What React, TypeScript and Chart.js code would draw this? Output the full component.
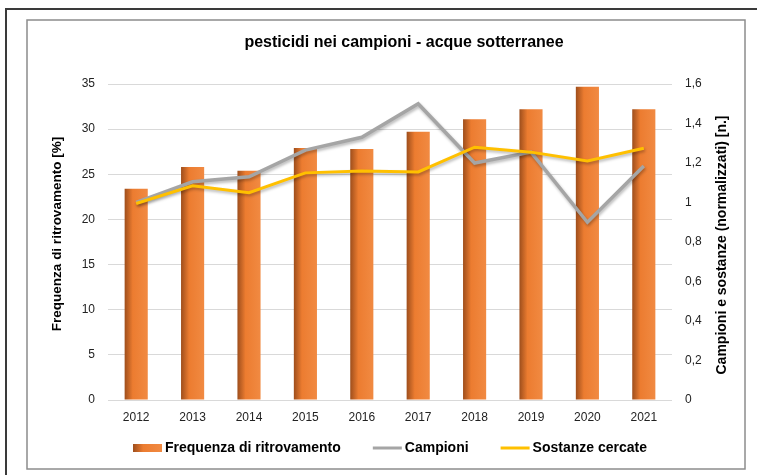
import React, { useEffect, useRef } from "react";
import { Chart, registerables } from "chart.js";

Chart.register(...registerables);

const years = ["2012", "2013", "2014", "2015", "2016", "2017", "2018", "2019", "2020", "2021"];
const frequenza = [23.4, 25.8, 25.4, 27.9, 27.8, 29.7, 31.1, 32.2, 34.7, 32.2];
const campioni = [1.0, 1.105, 1.13, 1.265, 1.33, 1.5, 1.2, 1.255, 0.9, 1.185];
const sostanze = [0.995, 1.085, 1.05, 1.15, 1.16, 1.155, 1.28, 1.255, 1.21, 1.275];

const titleText = "pesticidi nei campioni - acque sotterranee";
const leftTitle = "Frequenza di ritrovamento [%]";
const rightTitle = "Campioni e sostanze (normalizzati) [n.]";
const seriesNames = ["Frequenza di ritrovamento", "Campioni", "Sostanze cercate"];
const seriesColors = ["#ED7D31", "#A5A5A5", "#FFC000"];

const FONT = "'Liberation Sans', Arial, sans-serif";
const BAR_PCT = 0.41;

function barGradient(ctx: CanvasRenderingContext2D, x0: number, x1: number) {
  const g = ctx.createLinearGradient(x0, 0, x1, 0);
  g.addColorStop(0, "#9E4E1C");
  g.addColorStop(0.35, "#EC7C30");
  g.addColorStop(1, "#F18A42");
  return g;
}

const framePlugin = {
  id: "frame",
  beforeDraw(chart: any) {
    const ctx = chart.ctx;
    ctx.save();
    ctx.fillStyle = "#ffffff";
    ctx.fillRect(0, 0, chart.width, chart.height);
    ctx.strokeStyle = "#3a3a3a";
    ctx.lineWidth = 2;
    ctx.beginPath();
    ctx.moveTo(6, chart.height);
    ctx.lineTo(6, 9);
    ctx.lineTo(chart.width, 9);
    ctx.stroke();
    ctx.strokeStyle = "#8c8c8c";
    ctx.lineWidth = 1.5;
    ctx.strokeRect(27, 20, 718, 449);
    ctx.restore();
  },
};

const textPlugin = {
  id: "texts",
  afterDraw(chart: any) {
    const ctx = chart.ctx;
    const area = chart.chartArea;
    ctx.save();
    ctx.fillStyle = "#000";
    ctx.textBaseline = "middle";
    ctx.textAlign = "center";
    // chart title
    ctx.font = `bold 16px ${FONT}`;
    ctx.fillText(titleText, 404, 43);
    // left axis title
    ctx.font = `bold 13.5px ${FONT}`;
    ctx.save();
    ctx.translate(57, 234);
    ctx.rotate(-Math.PI / 2);
    ctx.fillText(leftTitle, 0, 0);
    ctx.restore();
    // right axis title
    ctx.font = `bold 14px ${FONT}`;
    ctx.save();
    ctx.translate(722, 245);
    ctx.rotate(-Math.PI / 2);
    ctx.fillText(rightTitle, 0, 0);
    ctx.restore();

    // legend
    ctx.font = `bold 14px ${FONT}`;
    ctx.textAlign = "left";
    const sym = 29;
    const gapSym = 3;
    const gapItem = 32;
    const widths = seriesNames.map((n) => ctx.measureText(n).width);
    const total = widths.reduce((a, w) => a + sym + gapSym + w, 0) + gapItem * (seriesNames.length - 1);
    let x = (area.left + area.right) / 2 - total / 2;
    const y = 448;
    seriesNames.forEach((name, i) => {
      if (i === 0) {
        ctx.fillStyle = barGradient(ctx, x, x + sym);
        ctx.fillRect(x, y - 4, sym, 8);
      } else {
        ctx.strokeStyle = seriesColors[i];
        ctx.lineWidth = 3;
        ctx.beginPath();
        ctx.moveTo(x, y);
        ctx.lineTo(x + sym, y);
        ctx.stroke();
      }
      ctx.fillStyle = "#000";
      ctx.fillText(name, x + sym + gapSym, y);
      x += sym + gapSym + widths[i] + gapItem;
    });
    ctx.restore();
  },
};

const shadowPlugin = {
  id: "lineShadow",
  beforeDatasetDraw(chart: any, args: any) {
    if (args.meta.type === "line") {
      const ctx = chart.ctx;
      ctx.save();
      ctx.shadowColor = "rgba(0,0,0,0.28)";
      ctx.shadowBlur = 3;
      ctx.shadowOffsetX = 1;
      ctx.shadowOffsetY = 2;
    }
  },
  afterDatasetDraw(chart: any, args: any) {
    if (args.meta.type === "line") {
      chart.ctx.restore();
    }
  },
};

export default function App() {
  const ref = useRef<HTMLCanvasElement | null>(null);

  useEffect(() => {
    if (!ref.current) return;
    const chart = new Chart(ref.current, {
      type: "bar",
      data: {
        labels: years,
        datasets: [
          {
            type: "bar",
            label: seriesNames[0],
            data: frequenza,
            yAxisID: "y",
            order: 3,
            barPercentage: BAR_PCT,
            categoryPercentage: 1,
            backgroundColor: (c: any) => {
              const ch = c.chart;
              const xs = ch.scales && ch.scales.x;
              if (!xs || c.type !== "data") return seriesColors[0];
              const cx = xs.getPixelForValue(c.dataIndex);
              const w = (xs.width / years.length) * BAR_PCT;
              if (!isFinite(cx) || !isFinite(w) || w <= 0) return seriesColors[0];
              return barGradient(ch.ctx, cx - w / 2, cx + w / 2);
            },
          },
          {
            type: "line",
            label: seriesNames[1],
            data: campioni,
            yAxisID: "y1",
            order: 2,
            borderColor: seriesColors[1],
            backgroundColor: seriesColors[1],
            borderWidth: 3.5,
            pointRadius: 0,
            tension: 0,
          },
          {
            type: "line",
            label: seriesNames[2],
            data: sostanze,
            yAxisID: "y1",
            order: 1,
            borderColor: seriesColors[2],
            backgroundColor: seriesColors[2],
            borderWidth: 3,
            pointRadius: 0,
            tension: 0,
          },
        ],
      } as any,
      options: {
        responsive: false,
        animation: false,
        devicePixelRatio: 1,
        layout: { padding: { left: 27, right: 12, top: 84, bottom: 44 } },
        plugins: {
          title: { display: false },
          legend: { display: false },
          tooltip: { enabled: false },
        },
        scales: {
          x: {
            grid: { display: false, drawTicks: false },
            border: { display: false },
            ticks: { color: "#222", font: { family: FONT, size: 12 }, padding: 10 },
            afterFit: (s: any) => {
              s.height = 31;
            },
          },
          y: {
            position: "left",
            min: 0,
            max: 35,
            ticks: { stepSize: 5, color: "#222", font: { family: FONT, size: 12 }, padding: 13 },
            grid: { color: "#D9D9D9", lineWidth: 1, drawTicks: false },
            border: { display: false },
            title: { display: false },
            afterFit: (s: any) => {
              s.width = 81;
            },
          },
          y1: {
            position: "right",
            min: 0,
            max: 1.6,
            ticks: {
              stepSize: 0.2,
              color: "#222",
              font: { family: FONT, size: 12 },
              padding: 13,
              callback: (v: any) => String(Number(Number(v).toFixed(1))).replace(".", ","),
            },
            grid: { display: false, drawTicks: false },
            border: { display: false },
            title: { display: false },
            afterFit: (s: any) => {
              s.width = 73;
            },
          },
        },
      } as any,
      plugins: [framePlugin, shadowPlugin, textPlugin],
    });
    return () => chart.destroy();
  }, []);

  return (
    <div style={{ position: "absolute", left: 0, top: 0, width: 757, height: 475 }}>
      <canvas ref={ref} width={757} height={475} />
    </div>
  );
}
